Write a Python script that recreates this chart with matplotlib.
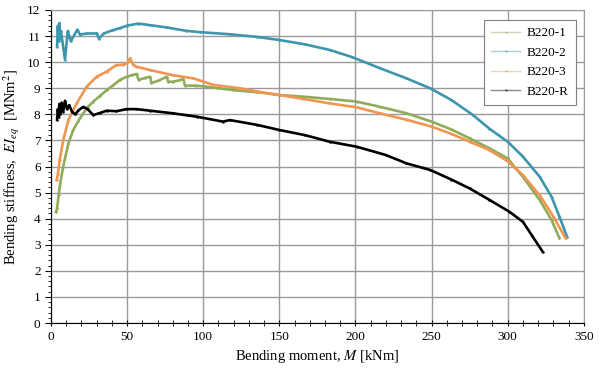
import numpy as np
import matplotlib
matplotlib.use('Agg')
import matplotlib.pyplot as plt
from matplotlib.ticker import MultipleLocator

plt.rcParams['font.family'] = ['Liberation Serif', 'DejaVu Serif']
plt.rcParams['mathtext.fontset'] = 'stix'

# B220-1 (green)
m1 = [3.3, 4.0, 5.0, 6.1, 8.0, 11.4, 14.6, 18.0, 21.2, 24.5, 27.8, 32.0, 36.6, 41.0, 45.3, 50.0,
      53.0, 56.3, 57.5, 62.0, 65.0, 66.0, 71.0, 76.0, 77.0, 80.0, 84.0, 87.0, 88.0, 95.0, 102.0,
      110.0, 119.5, 135.0, 150.0, 165.0, 183.0, 200.7, 216.0, 233.0, 250.0, 263.0, 275.0, 288.0,
      300.0, 310.0, 321.0, 328.8, 334.0]
ei1 = [4.25, 4.4, 4.9, 5.37, 5.99, 6.88, 7.4, 7.75, 8.04, 8.3, 8.49, 8.7, 8.93, 9.12, 9.32, 9.45,
       9.5, 9.55, 9.32, 9.4, 9.44, 9.2, 9.3, 9.44, 9.25, 9.25, 9.3, 9.35, 9.1, 9.1, 9.06,
       9.0, 8.93, 8.85, 8.74, 8.68, 8.59, 8.49, 8.29, 8.05, 7.72, 7.42, 7.08, 6.7,
       6.31, 5.6, 4.72, 3.95, 3.25]

# B220-2 (blue)
m2 = [4.0, 4.5, 5.0, 5.5, 6.0, 6.5, 9.2, 11.0, 13.0, 17.3, 19.0, 23.7, 30.0, 31.5, 34.6, 40.8,
      45.0, 50.0, 57.3, 65.0, 76.0, 89.0, 98.0, 117.5, 135.0, 150.0, 167.0, 183.0, 198.0, 216.0,
      233.5, 249.0, 263.0, 277.0, 288.0, 300.0, 310.0, 321.0, 328.8, 334.0, 339.0]
ei2 = [10.6, 11.4, 10.8, 11.5, 10.9, 11.2, 10.1, 11.2, 10.8, 11.25, 11.06, 11.1, 11.1, 10.9, 11.1, 11.23,
       11.3, 11.4, 11.48, 11.42, 11.33, 11.2, 11.15, 11.07, 10.97, 10.85, 10.68, 10.47, 10.19, 9.77,
       9.38, 9.0, 8.55, 7.98, 7.45, 6.95, 6.38, 5.61, 4.84, 4.08, 3.3]

# B220-3 (orange)
m3 = [3.7, 4.5, 5.7, 8.1, 11.4, 16.9, 23.4, 30.0, 36.6, 43.0, 47.0, 50.0, 51.9, 54.0, 56.0, 65.0,
      80.0, 93.4, 106.6, 124.0, 135.0, 150.0, 165.0, 183.0, 200.7, 216.0, 233.0, 250.0, 263.0,
      275.0, 288.0, 300.0, 310.0, 321.0, 330.0, 338.0]
ei3 = [5.48, 5.7, 6.25, 7.02, 7.78, 8.42, 9.06, 9.44, 9.64, 9.89, 9.9, 9.95, 10.15, 9.9, 9.83, 9.7,
       9.5, 9.38, 9.13, 9.0, 8.88, 8.74, 8.6, 8.42, 8.27, 8.04, 7.8, 7.53, 7.25,
       6.95, 6.63, 6.2, 5.67, 4.9, 4.08, 3.25]

# B220-R (black)
mR = [4.0, 4.5, 5.0, 5.5, 6.0, 7.0, 8.0, 9.2, 10.5, 12.0, 13.8, 16.0, 18.0, 21.2, 24.0, 27.8,
      32.0, 36.6, 43.0, 49.7, 56.0, 65.0, 80.0, 95.7, 113.0, 117.5, 135.0, 150.0, 167.0, 183.0,
      200.7, 220.0, 233.5, 249.0, 263.0, 275.0, 288.0, 301.0, 310.0, 316.0, 323.0]
eiR = [7.8, 8.2, 7.9, 8.4, 8.0, 8.45, 8.1, 8.52, 8.2, 8.35, 8.1, 8.0, 8.15, 8.29, 8.2, 7.97,
       8.05, 8.14, 8.12, 8.2, 8.2, 8.14, 8.04, 7.91, 7.72, 7.78, 7.6, 7.4, 7.2, 6.95,
       6.76, 6.44, 6.12, 5.87, 5.5, 5.16, 4.72, 4.27, 3.88, 3.35, 2.73]

labels = ['B220-1', 'B220-2', 'B220-3', 'B220-R']
colors = ['#8fac5a', '#3d96ad', '#f09650', '#000000']

fig = plt.figure(figsize=(6, 3.7), dpi=100)
ax = fig.add_axes([0.085, 0.127, 0.888, 0.846])

for m, ei, lab, c in zip([m1, m2, m3, mR], [ei1, ei2, ei3, eiR], labels, colors):
    ax.plot(m, ei, color=c, lw=1.9, marker='.', ms=1.5, label=lab)

ax.set_xlim(0, 350)
ax.set_ylim(0, 12)
ax.xaxis.set_major_locator(MultipleLocator(50))
ax.xaxis.set_minor_locator(MultipleLocator(10))
ax.yaxis.set_major_locator(MultipleLocator(1))
ax.yaxis.set_minor_locator(MultipleLocator(0.2))
ax.grid(True, which='major', color='#9a9a9a', lw=1.0)
ax.set_axisbelow(True)
ax.tick_params(axis='both', which='both', labelsize=9.5, color='black')
ax.tick_params(axis='x', which='both', direction='inout', length=4)
ax.tick_params(axis='y', which='major', direction='out', length=4)
ax.tick_params(axis='y', which='minor', direction='out', length=2.5)
ax.spines['top'].set_color('#9a9a9a')
ax.spines['right'].set_color('#9a9a9a')

ax.set_xlabel('Bending moment, $\\mathit{M}$ [kNm]', fontsize=10.5)
ax.set_ylabel('Bending stiffness,  $\\mathit{EI}_{eq}$  [MNm$^2$]', fontsize=10.5)

leg = ax.legend(loc='upper right', bbox_to_anchor=(0.998, 0.99), fontsize=9.5,
                fancybox=False, edgecolor='#808080', framealpha=1,
                handlelength=2.2, handletextpad=0.5, labelspacing=0.55, borderpad=0.55)
leg.get_frame().set_linewidth(0.8)
for h in leg.get_lines():
    h.set_alpha(0.45)
    h.set_linewidth(1.0)

fig.savefig('out.png', dpi=100)
